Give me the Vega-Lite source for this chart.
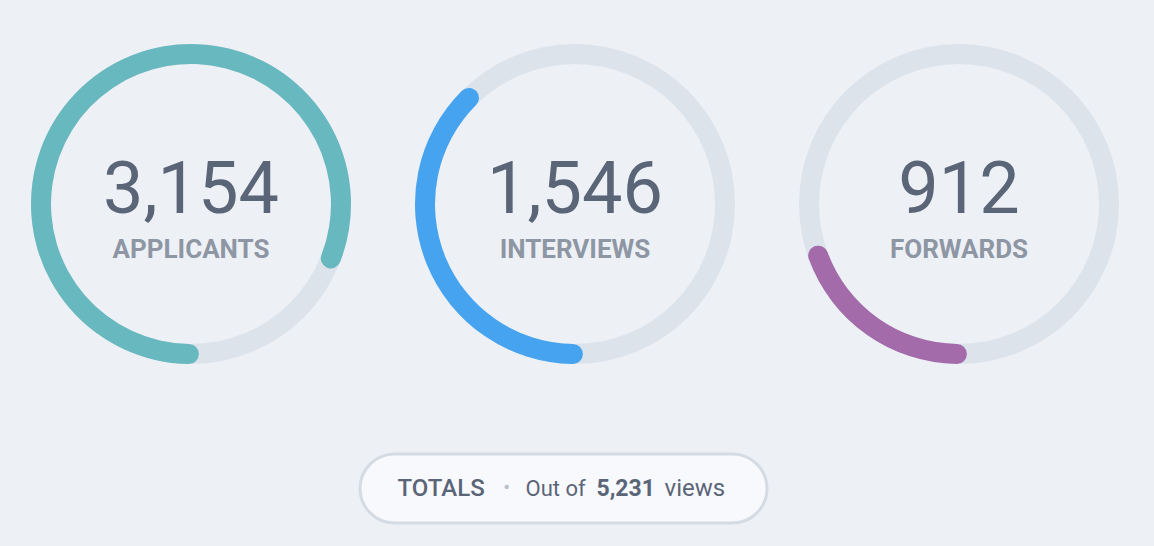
{
  "$schema": "https://vega.github.io/schema/vega-lite/v6.json",
  "background": "#EDF1F6",
  "padding": {"left": 31, "top": 44, "right": 35, "bottom": 25},
  "config": {
    "view": {"stroke": null},
    "font": "Roboto"
  },
  "datasets": {
    "rings": [
      {"metric": "Applicants", "label": "APPLICANTS", "count": 3154, "pct": 82.8, "order": 1},
      {"metric": "Interviews", "label": "INTERVIEWS", "count": 1546, "pct": 39.4, "order": 2},
      {"metric": "Forwards", "label": "FORWARDS", "count": 912, "pct": 21.3, "order": 3}
    ],
    "totals": [{"name": "TOTALS", "total": 5231}]
  },
  "vconcat": [
    {
      "data": {"name": "rings"},
      "facet": {
        "column": {"field": "metric", "type": "nominal", "sort": {"field": "order"}, "header": {"labels": false, "title": null, "labelPadding": 0, "titlePadding": 0}}
      },
      "spacing": {"column": 64},
      "spec": {
        "width": 320,
        "height": 320,
        "layer": [
          {
            "mark": {"type": "arc", "innerRadius": 140, "outerRadius": 160, "theta": 0, "theta2": 6.2832, "color": "#DCE3EB"},
            "encoding": {}
          },
          {
            "mark": {"type": "arc", "innerRadius": 140, "outerRadius": 160, "cornerRadius": 10},
            "encoding": {
              "theta": {"field": "pct", "type": "quantitative", "stack": true, "scale": {"domain": [0, 100], "range": [3.0892, 9.3724]}},
              "color": {"field": "metric", "type": "nominal", "legend": null,
                "scale": {"domain": ["Applicants", "Interviews", "Forwards"], "range": ["#68B8BF", "#45A3F0", "#A36BAA"]}}
            }
          },
          {
            "mark": {"type": "text", "font": "Roboto", "fontWeight": 400, "fontSize": 72, "color": "#5B6578", "baseline": "alphabetic", "dy": 8.5},
            "encoding": {"text": {"field": "count", "type": "quantitative", "format": ","}}
          },
          {
            "mark": {"type": "text", "font": "Roboto", "fontWeight": "bold", "fontSize": 26, "color": "#8E96A4", "baseline": "alphabetic", "dy": 54},
            "encoding": {"text": {"field": "label", "type": "nominal"}}
          }
        ]
      }
    },
    {
      "spacing": 326,
      "hconcat": [
        {
          "width": 1,
          "height": 69,
          "data": {"name": "totals"},
          "mark": {"type": "text", "text": ""},
          "encoding": {}
        },
        {
          "width": 407,
          "height": 69,
          "view": {"fill": "#F8F9FC", "stroke": "#D5DBE3", "strokeWidth": 3, "cornerRadius": 35},
          "data": {"name": "totals"},
          "layer": [
            {
              "mark": {"type": "text", "fontSize": 24, "fontWeight": 500, "color": "#5B6578", "align": "left", "baseline": "alphabetic", "dx": -166, "dy": 7},
              "encoding": {"text": {"field": "name", "type": "nominal"}}
            },
            {
              "mark": {"type": "text", "fontSize": 20, "color": "#B9C0CA", "align": "center", "baseline": "alphabetic", "dx": -57, "dy": 5, "text": "•"},
              "encoding": {}
            },
            {
              "mark": {"type": "text", "fontSize": 22, "fontWeight": 400, "color": "#5B6578", "align": "left", "baseline": "alphabetic", "dx": -38, "dy": 7, "text": "Out of"},
              "encoding": {}
            },
            {
              "mark": {"type": "text", "fontSize": 23, "fontWeight": "bold", "color": "#5B6578", "align": "left", "baseline": "alphabetic", "dx": 33, "dy": 7},
              "encoding": {"text": {"field": "total", "type": "quantitative", "format": ","}}
            },
            {
              "mark": {"type": "text", "fontSize": 24, "fontWeight": 400, "color": "#5B6578", "align": "left", "baseline": "alphabetic", "dx": 101, "dy": 7, "text": "views"},
              "encoding": {}
            }
          ]
        }
      ]
    }
  ],
  "spacing": 88
}
